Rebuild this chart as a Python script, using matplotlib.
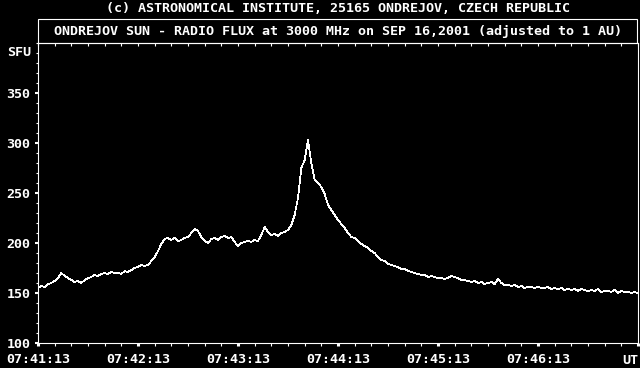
import numpy as np
import matplotlib
matplotlib.use('Agg')
import matplotlib.pyplot as plt
from matplotlib.patches import Rectangle
from matplotlib.ticker import MultipleLocator

"(1) data read off the chart: flux in SFU every 2 s from 07:41:13"
flux = [155, 157, 156, 159, 160, 162, 165, 170, 167, 165,
        163, 161, 162, 160, 163, 165, 166, 168, 167, 169,
        170, 169, 171, 170, 170, 169, 172, 171, 173, 175,
        176, 178, 177, 178, 182, 186, 192, 199, 204, 205,
        203, 205, 202, 203, 205, 206, 210, 214, 212, 206,
        202, 200, 204, 205, 203, 206, 207, 205, 206, 201,
        197, 200, 201, 202, 201, 203, 202, 208, 216, 211,
        208, 209, 207, 210, 211, 213, 218, 228, 245, 275,
        283, 303, 280, 263, 260, 256, 249, 238, 233, 228,
        223, 219, 215, 210, 206, 205, 202, 199, 197, 195,
        192, 190, 186, 183, 182, 179, 178, 177, 176, 174,
        174, 172, 171, 170, 169, 168, 168, 166, 167, 166,
        165, 165, 164, 165, 167, 166, 165, 163, 163, 162,
        161, 162, 160, 161, 159, 160, 161, 159, 164, 160,
        158, 158, 157, 158, 156, 157, 155, 156, 156, 155,
        156, 155, 155, 156, 154, 155, 154, 155, 153, 154,
        153, 154, 152, 154, 153, 152, 153, 152, 154, 151,
        152, 152, 151, 153, 150, 152, 151, 151, 150, 151,
        150]
seconds = np.arange(len(flux)) * 2

time_labels = ['07:41:13', '07:42:13', '07:43:13', '07:44:13', '07:45:13', '07:46:13']
time_ticks = [0, 60, 120, 180, 240, 300]
sfu_ticks = [100, 150, 200, 250, 300, 350]

credit = '(c) ASTRONOMICAL INSTITUTE, 25165 ONDREJOV, CZECH REPUBLIC'
title = 'ONDREJOV SUN - RADIO FLUX at 3000 MHz on SEP 16,2001 (adjusted to 1 AU)'

"(2) figure"
plt.rcParams['font.family'] = 'DejaVu Sans Mono'
plt.rcParams['font.size'] = 9.6
plt.rcParams['font.weight'] = 'bold'

W, H = 640, 368
fig = plt.figure(figsize=(6.4, 3.68), dpi=100, facecolor='black')
ax = fig.add_axes([38 / W, 1 - 343 / H, 600 / W, 300 / H], facecolor='black')

ax.plot(seconds, flux, color='white', lw=0.5, antialiased=False)
ax.set_xlim(0, 360)
ax.set_ylim(100, 400)

for s in ax.spines.values():
    s.set_color('white')
    s.set_linewidth(0.8)

ax.set_yticks(sfu_ticks)
ax.yaxis.set_minor_locator(MultipleLocator(10))
ax.set_xticks(time_ticks + [360])
ax.set_xticklabels(time_labels + [''])
ax.xaxis.set_minor_locator(MultipleLocator(10))

ax.tick_params(axis='y', which='major', colors='white', direction='out', length=2.5, width=1.5, pad=3)
ax.tick_params(axis='y', which='minor', colors='white', direction='out', length=1.2, width=0.8)
ax.tick_params(axis='x', which='major', colors='white', direction='out', length=2.5, width=2.2, pad=5)
ax.tick_params(axis='x', which='minor', colors='white', direction='out', length=2.2, width=0.8)

# inward ticks along the top edge
top = ax.twiny()
top.set_xlim(0, 360)
top.xaxis.set_major_locator(MultipleLocator(10))
top.tick_params(axis='x', colors='white', direction='in', length=1.8, width=0.8, labeltop=False)
for s in top.spines.values():
    s.set_visible(False)

ax.text(-7 / 600 * 360, 390, 'SFU', color='white', ha='right', va='center')
ax.text(1.0, -17 / 300, 'UT', color='white', ha='right', va='center', transform=ax.transAxes)

"(3) header texts and title box"
fig.add_artist(Rectangle((38 / W, 1 - 43 / H), 599 / W, 24 / H, transform=fig.transFigure,
                         fill=False, edgecolor='white', lw=0.8))
fig.text(338 / W, 1 - 8 / H, credit, color='white', ha='center', va='center')
fig.text(338 / W, 1 - 31 / H, title, color='white', ha='center', va='center')

plt.savefig('out.png', dpi=100, facecolor='black')
